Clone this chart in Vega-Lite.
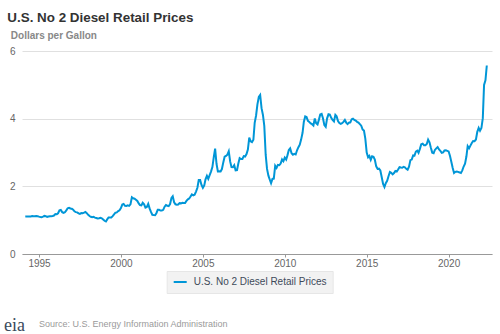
{
  "$schema": "https://vega.github.io/schema/vega-lite/v6.json",
  "background": "white",
  "padding": {"left": 4, "top": 10, "right": 5, "bottom": 0},
  "title": {"text": "Source: U.S. Energy Information Administration", "orient": "bottom", "anchor": "start", "frame": "bounds", "offset": 0, "dx": 35, "dy": -15, "font": "Liberation Sans", "fontSize": 9, "fontWeight": "normal", "color": "#9a9a9a"},
  "resolve": {"scale": {"color": "independent"}, "legend": {"color": "independent"}},
  "vconcat": [
    {
      "title": {"text": "eia", "orient": "bottom", "anchor": "start", "frame": "bounds", "offset": 23, "dx": -3.3, "font": "Liberation Serif", "fontSize": 18, "fontWeight": "normal", "color": "#3b4a5c"},
      "resolve": {"scale": {"color": "independent"}, "legend": {"color": "independent"}},
      "vconcat": [
        {
          "title": {"text": "U.S. No 2 Diesel Retail Prices", "anchor": "start", "frame": "bounds", "offset": 6, "dx": -2.1, "font": "Liberation Sans", "fontSize": 13.4, "fontWeight": "bold", "color": "#333333"},
          "width": 470,
          "height": 203,
          "data": {"values": [
            {"date": "1994-03-01", "price": 1.107}, {"date": "1994-04-01", "price": 1.110}, {"date": "1994-05-01", "price": 1.107}, {"date": "1994-06-01", "price": 1.107}, {"date": "1994-07-01", "price": 1.110}, {"date": "1994-08-01", "price": 1.124}, {"date": "1994-09-01", "price": 1.118}, {"date": "1994-10-01", "price": 1.116}, {"date": "1994-11-01", "price": 1.126}, {"date": "1994-12-01", "price": 1.117},
            {"date": "1995-01-01", "price": 1.104}, {"date": "1995-02-01", "price": 1.092}, {"date": "1995-03-01", "price": 1.088}, {"date": "1995-04-01", "price": 1.106}, {"date": "1995-05-01", "price": 1.126}, {"date": "1995-06-01", "price": 1.118}, {"date": "1995-07-01", "price": 1.099}, {"date": "1995-08-01", "price": 1.110}, {"date": "1995-09-01", "price": 1.118}, {"date": "1995-10-01", "price": 1.118}, {"date": "1995-11-01", "price": 1.124}, {"date": "1995-12-01", "price": 1.136},
            {"date": "1996-01-01", "price": 1.178}, {"date": "1996-02-01", "price": 1.174}, {"date": "1996-03-01", "price": 1.204}, {"date": "1996-04-01", "price": 1.288}, {"date": "1996-05-01", "price": 1.302}, {"date": "1996-06-01", "price": 1.238}, {"date": "1996-07-01", "price": 1.218}, {"date": "1996-08-01", "price": 1.234}, {"date": "1996-09-01", "price": 1.289}, {"date": "1996-10-01", "price": 1.353}, {"date": "1996-11-01", "price": 1.366}, {"date": "1996-12-01", "price": 1.345},
            {"date": "1997-01-01", "price": 1.336}, {"date": "1997-02-01", "price": 1.309}, {"date": "1997-03-01", "price": 1.261}, {"date": "1997-04-01", "price": 1.238}, {"date": "1997-05-01", "price": 1.230}, {"date": "1997-06-01", "price": 1.201}, {"date": "1997-07-01", "price": 1.186}, {"date": "1997-08-01", "price": 1.210}, {"date": "1997-09-01", "price": 1.204}, {"date": "1997-10-01", "price": 1.221}, {"date": "1997-11-01", "price": 1.240}, {"date": "1997-12-01", "price": 1.207},
            {"date": "1998-01-01", "price": 1.159}, {"date": "1998-02-01", "price": 1.123}, {"date": "1998-03-01", "price": 1.101}, {"date": "1998-04-01", "price": 1.088}, {"date": "1998-05-01", "price": 1.098}, {"date": "1998-06-01", "price": 1.076}, {"date": "1998-07-01", "price": 1.064}, {"date": "1998-08-01", "price": 1.049}, {"date": "1998-09-01", "price": 1.059}, {"date": "1998-10-01", "price": 1.072}, {"date": "1998-11-01", "price": 1.056}, {"date": "1998-12-01", "price": 1.020},
            {"date": "1999-01-01", "price": 0.982}, {"date": "1999-02-01", "price": 0.962}, {"date": "1999-03-01", "price": 1.022}, {"date": "1999-04-01", "price": 1.079}, {"date": "1999-05-01", "price": 1.081}, {"date": "1999-06-01", "price": 1.081}, {"date": "1999-07-01", "price": 1.120}, {"date": "1999-08-01", "price": 1.172}, {"date": "1999-09-01", "price": 1.220}, {"date": "1999-10-01", "price": 1.230}, {"date": "1999-11-01", "price": 1.268}, {"date": "1999-12-01", "price": 1.292},
            {"date": "2000-01-01", "price": 1.356}, {"date": "2000-02-01", "price": 1.461}, {"date": "2000-03-01", "price": 1.479}, {"date": "2000-04-01", "price": 1.422}, {"date": "2000-05-01", "price": 1.420}, {"date": "2000-06-01", "price": 1.436}, {"date": "2000-07-01", "price": 1.422}, {"date": "2000-08-01", "price": 1.468}, {"date": "2000-09-01", "price": 1.676}, {"date": "2000-10-01", "price": 1.645}, {"date": "2000-11-01", "price": 1.635}, {"date": "2000-12-01", "price": 1.604},
            {"date": "2001-01-01", "price": 1.567}, {"date": "2001-02-01", "price": 1.496}, {"date": "2001-03-01", "price": 1.443}, {"date": "2001-04-01", "price": 1.435}, {"date": "2001-05-01", "price": 1.515}, {"date": "2001-06-01", "price": 1.470}, {"date": "2001-07-01", "price": 1.369}, {"date": "2001-08-01", "price": 1.390}, {"date": "2001-09-01", "price": 1.481}, {"date": "2001-10-01", "price": 1.348}, {"date": "2001-11-01", "price": 1.244}, {"date": "2001-12-01", "price": 1.159},
            {"date": "2002-01-01", "price": 1.149}, {"date": "2002-02-01", "price": 1.146}, {"date": "2002-03-01", "price": 1.205}, {"date": "2002-04-01", "price": 1.307}, {"date": "2002-05-01", "price": 1.307}, {"date": "2002-06-01", "price": 1.284}, {"date": "2002-07-01", "price": 1.284}, {"date": "2002-08-01", "price": 1.306}, {"date": "2002-09-01", "price": 1.398}, {"date": "2002-10-01", "price": 1.447}, {"date": "2002-11-01", "price": 1.427}, {"date": "2002-12-01", "price": 1.416},
            {"date": "2003-01-01", "price": 1.476}, {"date": "2003-02-01", "price": 1.660}, {"date": "2003-03-01", "price": 1.706}, {"date": "2003-04-01", "price": 1.529}, {"date": "2003-05-01", "price": 1.468}, {"date": "2003-06-01", "price": 1.457}, {"date": "2003-07-01", "price": 1.463}, {"date": "2003-08-01", "price": 1.503}, {"date": "2003-09-01", "price": 1.497}, {"date": "2003-10-01", "price": 1.514}, {"date": "2003-11-01", "price": 1.507}, {"date": "2003-12-01", "price": 1.507},
            {"date": "2004-01-01", "price": 1.569}, {"date": "2004-02-01", "price": 1.615}, {"date": "2004-03-01", "price": 1.637}, {"date": "2004-04-01", "price": 1.699}, {"date": "2004-05-01", "price": 1.763}, {"date": "2004-06-01", "price": 1.736}, {"date": "2004-07-01", "price": 1.752}, {"date": "2004-08-01", "price": 1.844}, {"date": "2004-09-01", "price": 1.959}, {"date": "2004-10-01", "price": 2.187}, {"date": "2004-11-01", "price": 2.188}, {"date": "2004-12-01", "price": 2.040},
            {"date": "2005-01-01", "price": 1.956}, {"date": "2005-02-01", "price": 2.028}, {"date": "2005-03-01", "price": 2.207}, {"date": "2005-04-01", "price": 2.309}, {"date": "2005-05-01", "price": 2.222}, {"date": "2005-06-01", "price": 2.329}, {"date": "2005-07-01", "price": 2.436}, {"date": "2005-08-01", "price": 2.569}, {"date": "2005-09-01", "price": 2.862}, {"date": "2005-10-01", "price": 3.117}, {"date": "2005-11-01", "price": 2.666}, {"date": "2005-12-01", "price": 2.444},
            {"date": "2006-01-01", "price": 2.448}, {"date": "2006-02-01", "price": 2.442}, {"date": "2006-03-01", "price": 2.510}, {"date": "2006-04-01", "price": 2.707}, {"date": "2006-05-01", "price": 2.875}, {"date": "2006-06-01", "price": 2.898}, {"date": "2006-07-01", "price": 2.936}, {"date": "2006-08-01", "price": 3.034}, {"date": "2006-09-01", "price": 2.737}, {"date": "2006-10-01", "price": 2.566}, {"date": "2006-11-01", "price": 2.562}, {"date": "2006-12-01", "price": 2.624},
            {"date": "2007-01-01", "price": 2.470}, {"date": "2007-02-01", "price": 2.476}, {"date": "2007-03-01", "price": 2.667}, {"date": "2007-04-01", "price": 2.834}, {"date": "2007-05-01", "price": 2.808}, {"date": "2007-06-01", "price": 2.810}, {"date": "2007-07-01", "price": 2.893}, {"date": "2007-08-01", "price": 2.880}, {"date": "2007-09-01", "price": 2.953}, {"date": "2007-10-01", "price": 3.088}, {"date": "2007-11-01", "price": 3.443}, {"date": "2007-12-01", "price": 3.332},
            {"date": "2008-01-01", "price": 3.308}, {"date": "2008-02-01", "price": 3.376}, {"date": "2008-03-01", "price": 3.879}, {"date": "2008-04-01", "price": 4.094}, {"date": "2008-05-01", "price": 4.425}, {"date": "2008-06-01", "price": 4.647}, {"date": "2008-07-01", "price": 4.703}, {"date": "2008-08-01", "price": 4.310}, {"date": "2008-09-01", "price": 4.109}, {"date": "2008-10-01", "price": 3.788}, {"date": "2008-11-01", "price": 2.935}, {"date": "2008-12-01", "price": 2.515},
            {"date": "2009-01-01", "price": 2.316}, {"date": "2009-02-01", "price": 2.196}, {"date": "2009-03-01", "price": 2.092}, {"date": "2009-04-01", "price": 2.219}, {"date": "2009-05-01", "price": 2.229}, {"date": "2009-06-01", "price": 2.607}, {"date": "2009-07-01", "price": 2.543}, {"date": "2009-08-01", "price": 2.635}, {"date": "2009-09-01", "price": 2.627}, {"date": "2009-10-01", "price": 2.672}, {"date": "2009-11-01", "price": 2.798}, {"date": "2009-12-01", "price": 2.742},
            {"date": "2010-01-01", "price": 2.850}, {"date": "2010-02-01", "price": 2.794}, {"date": "2010-03-01", "price": 2.915}, {"date": "2010-04-01", "price": 3.073}, {"date": "2010-05-01", "price": 3.122}, {"date": "2010-06-01", "price": 2.980}, {"date": "2010-07-01", "price": 2.935}, {"date": "2010-08-01", "price": 2.961}, {"date": "2010-09-01", "price": 2.942}, {"date": "2010-10-01", "price": 3.066}, {"date": "2010-11-01", "price": 3.157}, {"date": "2010-12-01", "price": 3.232},
            {"date": "2011-01-01", "price": 3.388}, {"date": "2011-02-01", "price": 3.584}, {"date": "2011-03-01", "price": 3.905}, {"date": "2011-04-01", "price": 4.064}, {"date": "2011-05-01", "price": 4.047}, {"date": "2011-06-01", "price": 3.933}, {"date": "2011-07-01", "price": 3.905}, {"date": "2011-08-01", "price": 3.860}, {"date": "2011-09-01", "price": 3.837}, {"date": "2011-10-01", "price": 3.798}, {"date": "2011-11-01", "price": 4.006}, {"date": "2011-12-01", "price": 3.867},
            {"date": "2012-01-01", "price": 3.831}, {"date": "2012-02-01", "price": 3.972}, {"date": "2012-03-01", "price": 4.125}, {"date": "2012-04-01", "price": 4.142}, {"date": "2012-05-01", "price": 4.010}, {"date": "2012-06-01", "price": 3.808}, {"date": "2012-07-01", "price": 3.758}, {"date": "2012-08-01", "price": 4.011}, {"date": "2012-09-01", "price": 4.128}, {"date": "2012-10-01", "price": 4.117}, {"date": "2012-11-01", "price": 4.026}, {"date": "2012-12-01", "price": 3.961},
            {"date": "2013-01-01", "price": 3.918}, {"date": "2013-02-01", "price": 4.111}, {"date": "2013-03-01", "price": 4.068}, {"date": "2013-04-01", "price": 3.930}, {"date": "2013-05-01", "price": 3.870}, {"date": "2013-06-01", "price": 3.849}, {"date": "2013-07-01", "price": 3.866}, {"date": "2013-08-01", "price": 3.905}, {"date": "2013-09-01", "price": 3.961}, {"date": "2013-10-01", "price": 3.885}, {"date": "2013-11-01", "price": 3.839}, {"date": "2013-12-01", "price": 3.882},
            {"date": "2014-01-01", "price": 3.893}, {"date": "2014-02-01", "price": 3.984}, {"date": "2014-03-01", "price": 4.001}, {"date": "2014-04-01", "price": 3.964}, {"date": "2014-05-01", "price": 3.943}, {"date": "2014-06-01", "price": 3.906}, {"date": "2014-07-01", "price": 3.884}, {"date": "2014-08-01", "price": 3.838}, {"date": "2014-09-01", "price": 3.792}, {"date": "2014-10-01", "price": 3.681}, {"date": "2014-11-01", "price": 3.647}, {"date": "2014-12-01", "price": 3.411},
            {"date": "2015-01-01", "price": 2.997}, {"date": "2015-02-01", "price": 2.858}, {"date": "2015-03-01", "price": 2.897}, {"date": "2015-04-01", "price": 2.782}, {"date": "2015-05-01", "price": 2.888}, {"date": "2015-06-01", "price": 2.873}, {"date": "2015-07-01", "price": 2.788}, {"date": "2015-08-01", "price": 2.591}, {"date": "2015-09-01", "price": 2.515}, {"date": "2015-10-01", "price": 2.522}, {"date": "2015-11-01", "price": 2.468}, {"date": "2015-12-01", "price": 2.274},
            {"date": "2016-01-01", "price": 2.073}, {"date": "2016-02-01", "price": 1.981}, {"date": "2016-03-01", "price": 2.092}, {"date": "2016-04-01", "price": 2.161}, {"date": "2016-05-01", "price": 2.298}, {"date": "2016-06-01", "price": 2.422}, {"date": "2016-07-01", "price": 2.398}, {"date": "2016-08-01", "price": 2.354}, {"date": "2016-09-01", "price": 2.393}, {"date": "2016-10-01", "price": 2.454}, {"date": "2016-11-01", "price": 2.439}, {"date": "2016-12-01", "price": 2.497},
            {"date": "2017-01-01", "price": 2.567}, {"date": "2017-02-01", "price": 2.555}, {"date": "2017-03-01", "price": 2.550}, {"date": "2017-04-01", "price": 2.576}, {"date": "2017-05-01", "price": 2.560}, {"date": "2017-06-01", "price": 2.517}, {"date": "2017-07-01", "price": 2.490}, {"date": "2017-08-01", "price": 2.580}, {"date": "2017-09-01", "price": 2.775}, {"date": "2017-10-01", "price": 2.791}, {"date": "2017-11-01", "price": 2.913}, {"date": "2017-12-01", "price": 2.906},
            {"date": "2018-01-01", "price": 3.028}, {"date": "2018-02-01", "price": 3.056}, {"date": "2018-03-01", "price": 2.991}, {"date": "2018-04-01", "price": 3.107}, {"date": "2018-05-01", "price": 3.245}, {"date": "2018-06-01", "price": 3.262}, {"date": "2018-07-01", "price": 3.216}, {"date": "2018-08-01", "price": 3.217}, {"date": "2018-09-01", "price": 3.253}, {"date": "2018-10-01", "price": 3.380}, {"date": "2018-11-01", "price": 3.302}, {"date": "2018-12-01", "price": 3.143},
            {"date": "2019-01-01", "price": 2.996}, {"date": "2019-02-01", "price": 2.980}, {"date": "2019-03-01", "price": 3.076}, {"date": "2019-04-01", "price": 3.121}, {"date": "2019-05-01", "price": 3.161}, {"date": "2019-06-01", "price": 3.089}, {"date": "2019-07-01", "price": 3.047}, {"date": "2019-08-01", "price": 2.992}, {"date": "2019-09-01", "price": 3.004}, {"date": "2019-10-01", "price": 3.060}, {"date": "2019-11-01", "price": 3.064}, {"date": "2019-12-01", "price": 3.049},
            {"date": "2020-01-01", "price": 3.031}, {"date": "2020-02-01", "price": 2.894}, {"date": "2020-03-01", "price": 2.726}, {"date": "2020-04-01", "price": 2.545}, {"date": "2020-05-01", "price": 2.394}, {"date": "2020-06-01", "price": 2.429}, {"date": "2020-07-01", "price": 2.436}, {"date": "2020-08-01", "price": 2.427}, {"date": "2020-09-01", "price": 2.410}, {"date": "2020-10-01", "price": 2.392}, {"date": "2020-11-01", "price": 2.472}, {"date": "2020-12-01", "price": 2.585},
            {"date": "2021-01-01", "price": 2.670}, {"date": "2021-02-01", "price": 2.888}, {"date": "2021-03-01", "price": 3.190}, {"date": "2021-04-01", "price": 3.125}, {"date": "2021-05-01", "price": 3.204}, {"date": "2021-06-01", "price": 3.281}, {"date": "2021-07-01", "price": 3.341}, {"date": "2021-08-01", "price": 3.336}, {"date": "2021-09-01", "price": 3.384}, {"date": "2021-10-01", "price": 3.612}, {"date": "2021-11-01", "price": 3.727}, {"date": "2021-12-01", "price": 3.641},
            {"date": "2022-01-01", "price": 3.723}, {"date": "2022-02-01", "price": 4.016}, {"date": "2022-03-01", "price": 4.999}, {"date": "2022-04-01", "price": 5.133}, {"date": "2022-05-01", "price": 5.571}
          ]},
          "mark": {"type": "line", "strokeWidth": 2, "interpolate": "linear"},
          "encoding": {
            "x": {
              "field": "date", "type": "temporal",
              "scale": {"type": "utc", "domain": [{"year": 1993, "month": 12, "date": 18, "utc": true}, {"year": 2022, "month": 8, "date": 25, "utc": true}]},
              "axis": {
                "title": null, "format": "%Y",
                "values": [{"year": 1995, "utc": true}, {"year": 2000, "utc": true}, {"year": 2005, "utc": true}, {"year": 2010, "utc": true}, {"year": 2015, "utc": true}, {"year": 2020, "utc": true}],
                "grid": false, "domainColor": "#999999", "tickColor": "#999999", "tickSize": 3, "labelPadding": 1,
                "labelFont": "Liberation Sans", "labelFontSize": 10, "labelColor": "#666666"
              }
            },
            "y": {
              "field": "price", "type": "quantitative",
              "scale": {"domain": [0, 6], "nice": false, "zero": true},
              "axis": {
                "values": [0, 2, 4, 6], "title": "Dollars per Gallon",
                "titleAngle": 0, "titleAlign": "left", "titleBaseline": "alphabetic", "titleX": -11.7, "titleY": -13,
                "titleFont": "Liberation Sans", "titleFontSize": 10, "titleFontWeight": "bold", "titleColor": "#888888",
                "domain": false, "ticks": false, "labelPadding": 7,
                "labelFont": "Liberation Sans", "labelFontSize": 10, "labelColor": "#666666",
                "gridColor": "#e0e0e0", "gridWidth": 1
              }
            },
            "color": {
              "datum": "U.S. No 2 Diesel Retail Prices",
              "scale": {"range": ["#0096d7"]},
              "legend": {
                "title": null, "orient": "none", "legendX": 144.7, "legendY": 220,
                "symbolType": "stroke", "symbolSize": 169, "symbolStrokeWidth": 2,
                "labelFont": "Liberation Sans", "labelFontSize": 10, "labelColor": "#3e4a5a", "labelOffset": 6,
                "padding": 6, "clipHeight": 10, "fillColor": "#f2f2f2", "strokeColor": "#e6e6e6"
              }
            }
          }
        }
      ]
    }
  ],
  "config": {"view": {"stroke": null}, "concat": {"spacing": 0}}
}
